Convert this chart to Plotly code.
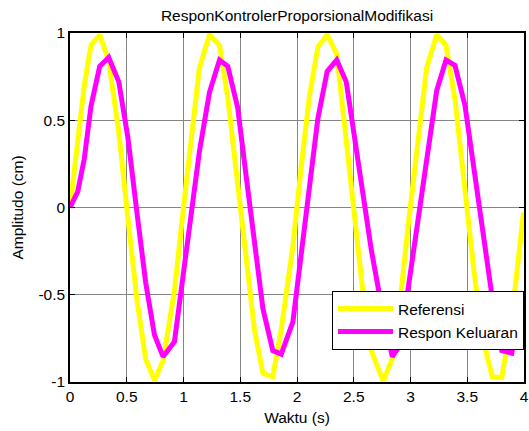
import plotly.graph_objects as go

# Shared time vector (s)
waktu = [0.000, 0.068, 0.126, 0.185, 0.262, 0.341, 0.430, 0.510, 0.590, 0.667,
         0.744, 0.820, 0.920, 1.000, 1.070, 1.140, 1.229, 1.317, 1.390, 1.478,
         1.550, 1.625, 1.700, 1.787, 1.861, 1.964, 2.040, 2.110, 2.184, 2.266,
         2.350, 2.434, 2.507, 2.580, 2.654, 2.760, 2.840, 2.907, 2.980, 3.060,
         3.142, 3.231, 3.313, 3.392, 3.480, 3.560, 3.640, 3.721, 3.804, 3.892,
         3.995]

referensi = [0.00, 0.40, 0.70, 0.93, 0.99, 0.84, 0.43, -0.06, -0.53, -0.87,
             -0.99, -0.88, -0.48, 0.00, 0.42, 0.80, 0.99, 0.93, 0.63, 0.13,
             -0.31, -0.70, -0.95, -0.97, -0.70, -0.22, 0.25, 0.64, 0.92, 0.99,
             0.88, 0.40, -0.05, -0.48, -0.82, -0.995, -0.865, -0.55, -0.10, 0.37,
             0.80, 0.99, 0.93, 0.62, 0.12, -0.37, -0.76, -0.97, -0.975, -0.64,
             -0.03]

keluaran = [0.00, 0.09, 0.28, 0.58, 0.81, 0.86, 0.72, 0.40, -0.03, -0.43,
            -0.73, -0.855, -0.77, -0.37, -0.02, 0.32, 0.66, 0.845, 0.81, 0.57,
            0.19, -0.20, -0.58, -0.82, -0.84, -0.655, -0.25, 0.12, 0.51, 0.78,
            0.845, 0.72, 0.40, 0.08, -0.24, -0.62, -0.855, -0.79, -0.46, -0.10,
            0.27, 0.67, 0.845, 0.815, 0.585, 0.22, -0.15, -0.52, -0.82, -0.835,
            -0.48]

x_ticks = [0, 0.5, 1, 1.5, 2, 2.5, 3, 3.5, 4]
x_labels = ["0", "0.5", "1", "1.5", "2", "2.5", "3", "3.5", "4"]
y_ticks = [-1, -0.5, 0, 0.5, 1]
y_labels = ["-1", "-0.5", "0", "0.5", "1"]

FONT = "Liberation Sans, Arial, sans-serif"
FS = 15.5

fig = go.Figure()
fig.add_trace(go.Scatter(x=waktu, y=referensi, mode="lines", name="Referensi",
                         line=dict(color="#FFFF00", width=5)))
fig.add_trace(go.Scatter(x=waktu, y=keluaran, mode="lines", name="Respon Keluaran",
                         line=dict(color="#FF00FF", width=5)))

axis_common = dict(showline=True, linecolor="black", linewidth=1.5, mirror="ticks",
                   ticks="inside", ticklen=5, tickcolor="black",
                   showgrid=True, gridcolor="#858585", gridwidth=1,
                   zeroline=False, automargin=False,
                   tickfont=dict(family=FONT, size=FS, color="black"))

fig.update_layout(
    width=529, height=431,
    margin=dict(l=70, r=5, t=33, b=49, autoexpand=False),
    paper_bgcolor="white", plot_bgcolor="white",
    font=dict(family=FONT, size=FS, color="black"),
    title=dict(text="ResponKontrolerProporsionalModifikasi", x=0.5, xref="paper",
               y=0.963, yref="container", xanchor="center", yanchor="middle",
               font=dict(family=FONT, size=FS, color="black")),
    xaxis=dict(range=[0, 4], tickvals=x_ticks, ticktext=x_labels,
               title=dict(text="Waktu (s)", standoff=8, font=dict(family=FONT, size=FS)),
               **axis_common),
    yaxis=dict(range=[-1, 1], tickvals=y_ticks, ticktext=y_labels,
               title=dict(text="Amplitudo (cm)", standoff=11, font=dict(family=FONT, size=FS)),
               **axis_common),
    legend=dict(x=1.0, y=0.092, xanchor="right", yanchor="bottom",
                bgcolor="white", bordercolor="black", borderwidth=1,
                font=dict(family=FONT, size=FS, color="black"),
                itemwidth=55, tracegroupgap=0),
    showlegend=True,
)

fig.write_html("out.html", config={"displayModeBar": False},
               post_script="document.body.style.margin='0';document.body.style.padding='0';")
